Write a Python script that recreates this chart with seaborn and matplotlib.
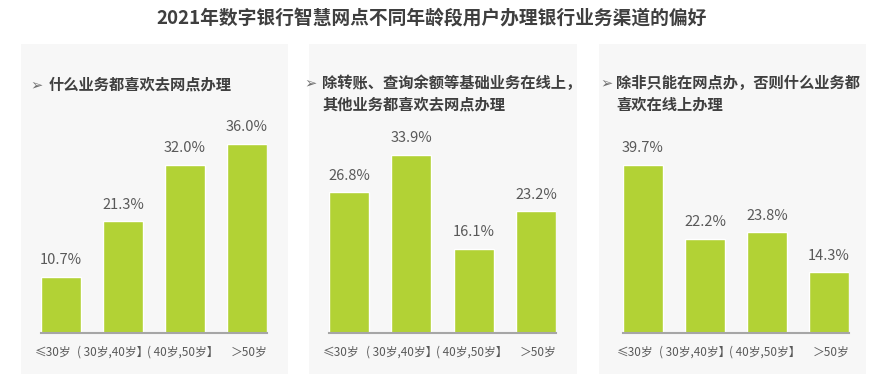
import matplotlib.pyplot as plt
import matplotlib.transforms as mtransforms
import pandas as pd
import seaborn as sns

# 데이터
age_groups = ["≤30岁", "( 30岁,40岁】", "( 40岁,50岁】", "＞50岁"]
pct_all_branch = [10.7, 21.3, 32.0, 36.0]
pct_basic_online = [26.8, 33.9, 16.1, 23.2]
pct_all_online = [39.7, 22.2, 23.8, 14.3]

main_title = "2021年数字银行智慧网点不同年龄段用户办理银行业务渠道的偏好"
panel_titles = [
    "什么业务都喜欢去网点办理",
    "除转账、查询余额等基础业务在线上，\n其他业务都喜欢去网点办理",
    "除非只能在网点办，否则什么业务都\n喜欢在线上办理",
]
panel_values = [pct_all_branch, pct_basic_online, pct_all_online]
panel_ymax = [42.5, 42.5, 52.7]

BAR_COLOR = "#B2D235"
TEXT_DARK = "#3F3F3F"
TEXT_GRAY = "#595959"
CARD_COLOR = "#F7F7F7"

sns.set_theme(style="white")
plt.rcParams["font.family"] = ["Noto Sans CJK SC", "DejaVu Sans"]
plt.rcParams["axes.unicode_minus"] = False

W, H = 884, 387
fig = plt.figure(figsize=(W / 100, H / 100), dpi=100)
fig.patch.set_facecolor("white")


def px_rect(x0, y0, x1, y1):
    # 픽셀 좌표(위에서 아래) -> figure 좌표
    return [x0 / W, 1 - y1 / H, (x1 - x0) / W, (y1 - y0) / H]


cards = [(21, 288), (309, 577), (599, 866)]
plot_x = [(41, 267), (329, 556), (623, 849)]
arrow_x = [37, 311, 606]
title_x = [49, 322, 616]
title_y = [85, 94, 94]
# 눈금 레이블 좌우 보정(px) — 원본처럼 왼쪽으로 살짝 치우침
label_shift = [-8, -10, -2, 2]

for i in range(3):
    card = fig.add_axes(px_rect(cards[i][0], 44, cards[i][1], 374))
    card.set_facecolor(CARD_COLOR)
    card.set_xticks([])
    card.set_yticks([])
    for s in card.spines.values():
        s.set_visible(False)
    card.set_zorder(0)

    df = pd.DataFrame({"age": age_groups, "pct": panel_values[i]})
    ax = fig.add_axes(px_rect(plot_x[i][0], 110, plot_x[i][1], 333))
    ax.set_zorder(1)
    ax.patch.set_alpha(0)
    sns.barplot(data=df, x="age", y="pct", color=BAR_COLOR, width=0.645,
                saturation=1, ax=ax)
    ax.bar_label(ax.containers[0], fmt="%.1f%%", padding=7,
                 color=TEXT_GRAY, fontsize=10.5)
    ax.set_xlim(-0.3225, 3.3225)
    ax.set_ylim(0, panel_ymax[i])
    ax.set_xlabel("")
    ax.set_ylabel("")
    ax.set_yticks([])
    ax.tick_params(axis="x", length=0, pad=9, labelsize=8.5, labelcolor=TEXT_GRAY)
    for lab, dx in zip(ax.get_xticklabels(), label_shift):
        lab.set_transform(lab.get_transform()
                          + mtransforms.ScaledTranslation(dx / 100, 0, fig.dpi_scale_trans))
    for side in ["top", "right", "left"]:
        ax.spines[side].set_visible(False)
    ax.spines["bottom"].set_color("#A6A6A6")
    ax.spines["bottom"].set_linewidth(1.5)

    fig.text(arrow_x[i] / W, 1 - (83 if i else 85) / H, "➢",
             family=["DejaVu Sans"], fontsize=10.5, color="#6F6F6F",
             ha="center", va="center")
    fig.text(title_x[i] / W, 1 - title_y[i] / H, panel_titles[i],
             fontsize=11, fontweight="bold", color=TEXT_DARK,
             ha="left", va="center", linespacing=1.45)

fig.text(432 / W, 1 - 18 / H, main_title, fontsize=13.5, fontweight="bold",
         color=TEXT_DARK, ha="center", va="center")

fig.savefig("out.png", dpi=100)
